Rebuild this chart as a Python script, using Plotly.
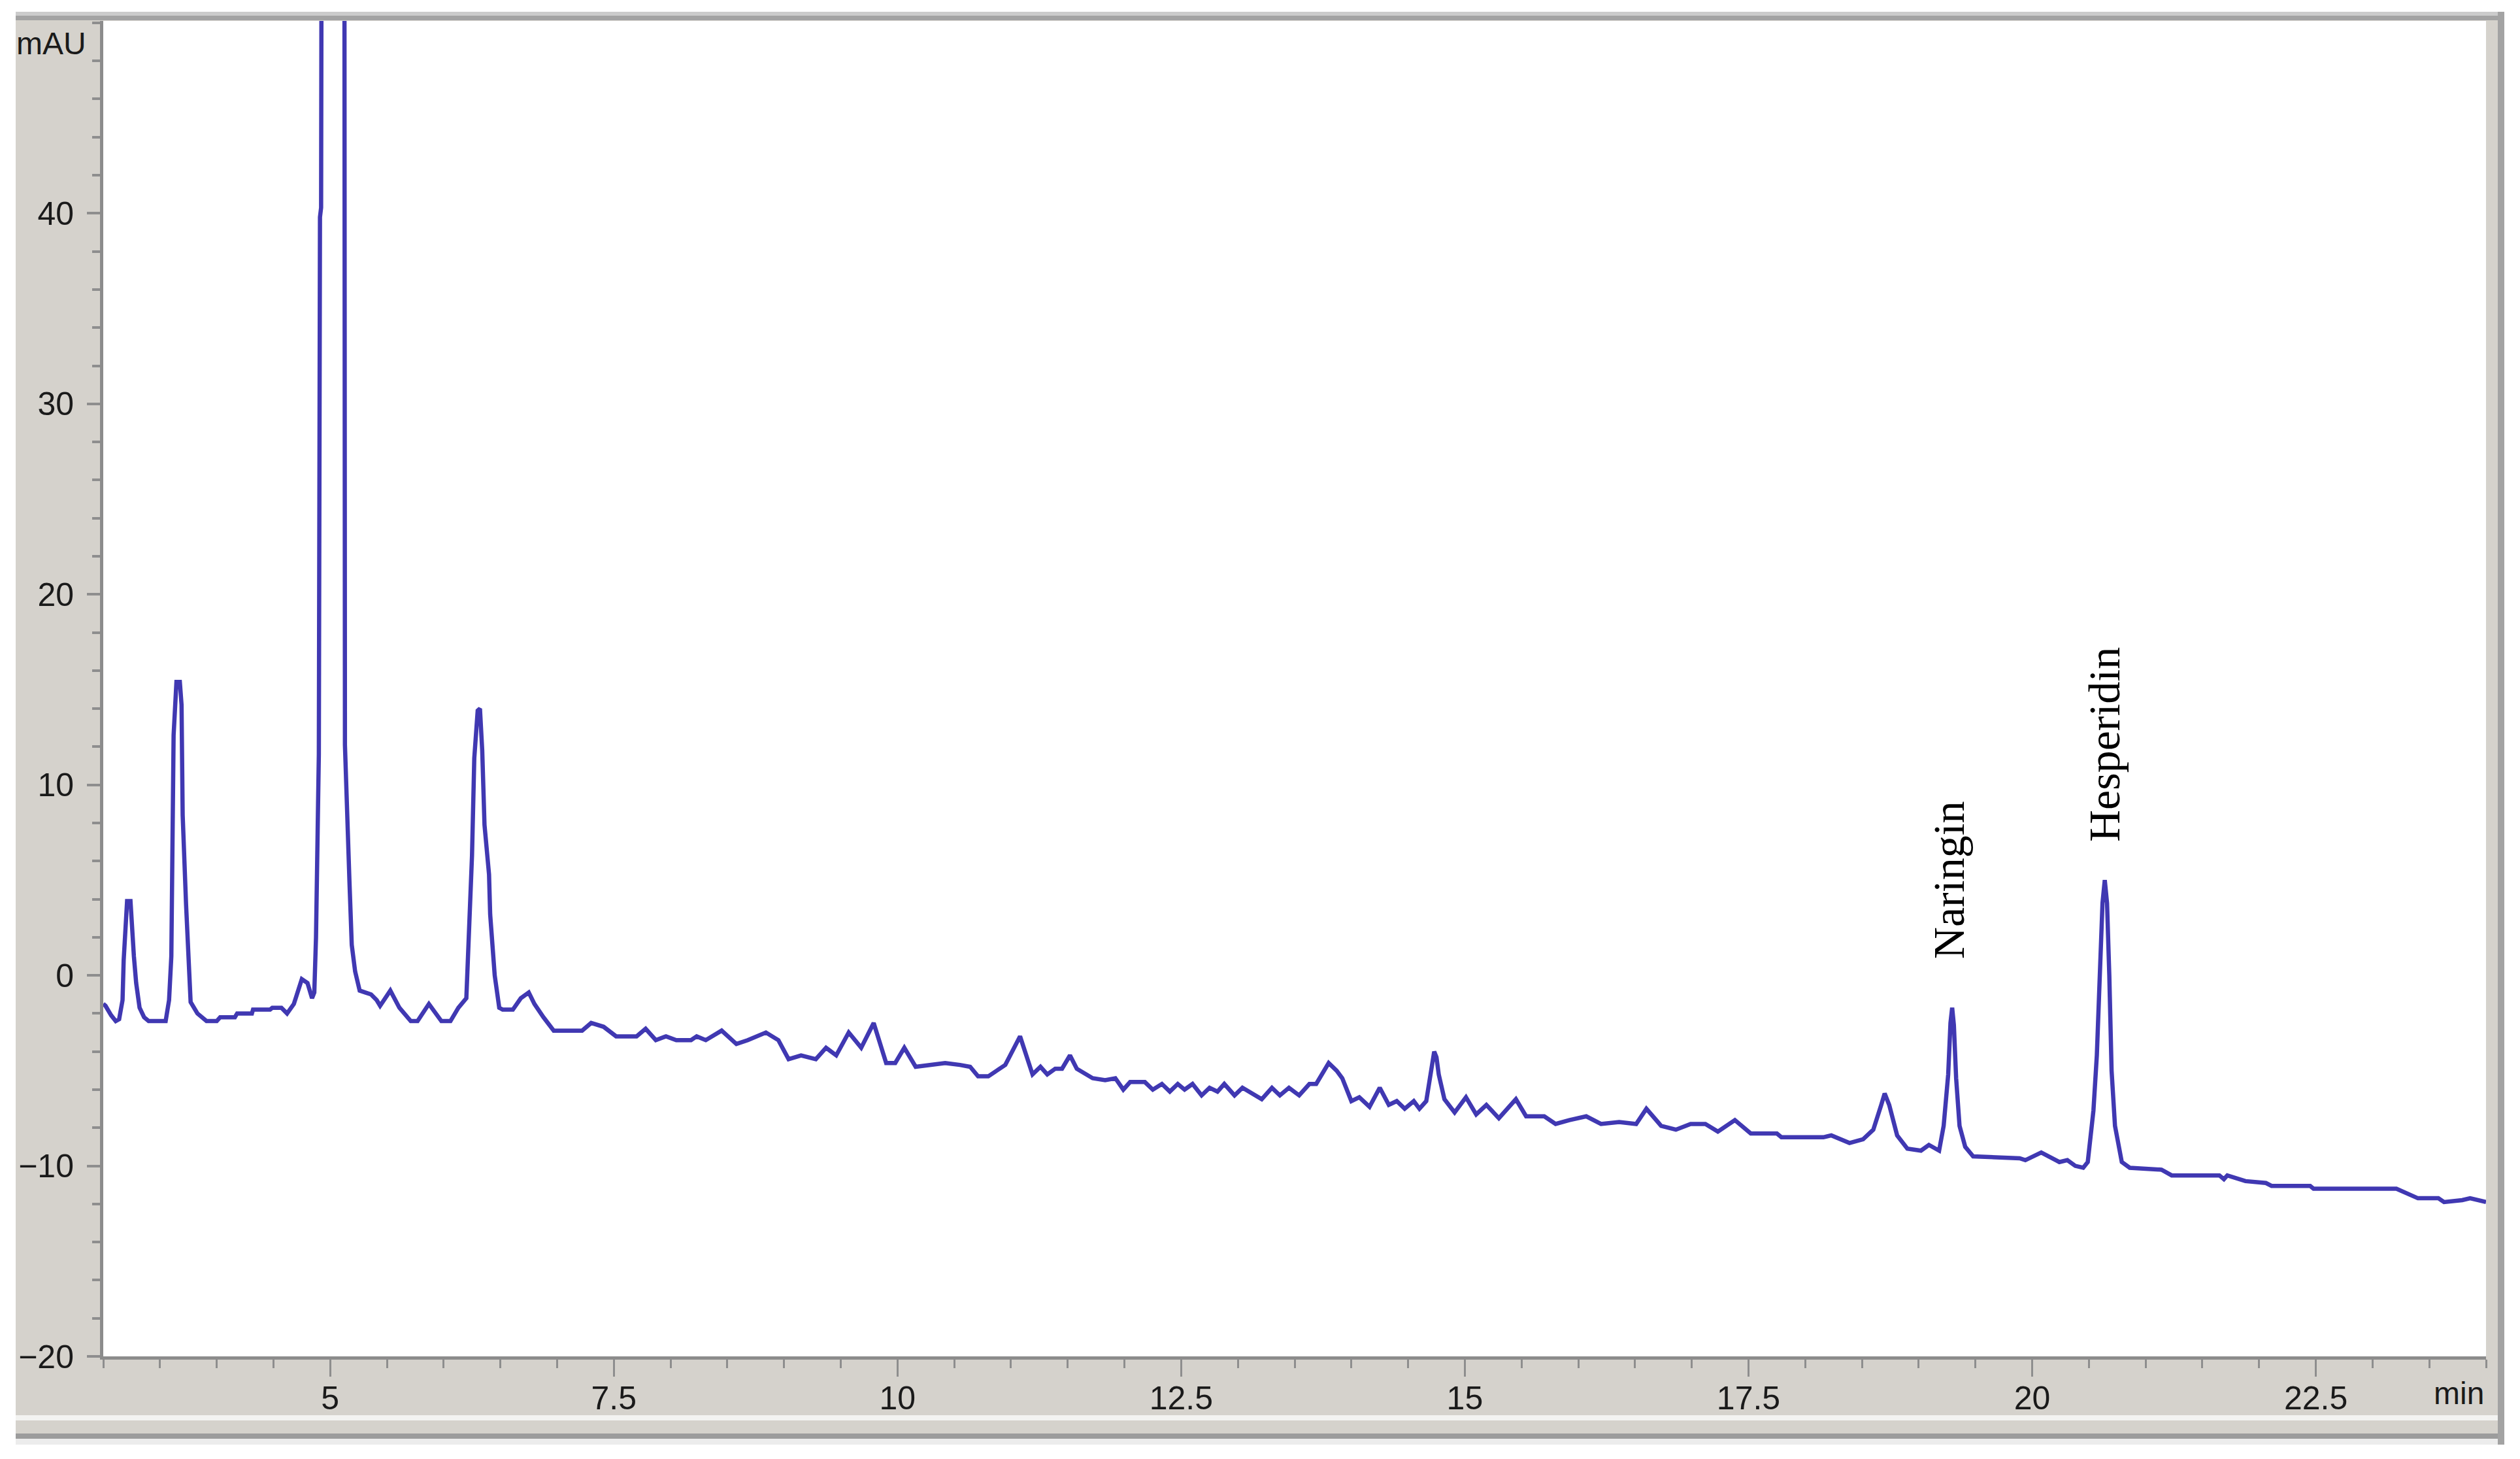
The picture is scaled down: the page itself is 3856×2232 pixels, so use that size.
import plotly.graph_objects as go

# ---------------- data ----------------
time_min = [
    3.00, 3.02, 3.07, 3.11, 3.14, 3.17, 3.18, 3.20, 3.21, 3.24, 3.25, 3.27, 3.29, 3.32, 3.36, 3.40,
    3.55, 3.58, 3.60, 3.61, 3.62, 3.645, 3.675, 3.69, 3.70, 3.73, 3.75, 3.77, 3.83, 3.91, 4.00, 4.03,
    4.16, 4.18, 4.31, 4.32, 4.47, 4.49, 4.57, 4.62, 4.68, 4.75, 4.80, 4.84, 4.86, 4.875, 4.90, 4.91,
    4.92, 4.94, 5.02, 5.11, 5.13, 5.17, 5.19, 5.22, 5.26, 5.31, 5.36, 5.41, 5.44, 5.53, 5.61, 5.71,
    5.77, 5.87, 5.98, 6.06, 6.13, 6.20, 6.21, 6.23, 6.25, 6.27, 6.30, 6.32, 6.34, 6.36, 6.40, 6.41,
    6.45, 6.49, 6.52, 6.61, 6.68, 6.75, 6.80, 6.88, 6.97, 7.22, 7.30, 7.41, 7.52, 7.70, 7.78, 7.87,
    7.96, 8.05, 8.18, 8.23, 8.31, 8.45, 8.58, 8.68, 8.84, 8.95, 9.04, 9.15, 9.28, 9.37, 9.46, 9.57,
    9.68, 9.79, 9.90, 9.98, 10.06, 10.16, 10.42, 10.55, 10.64, 10.71, 10.80, 10.95, 11.08, 11.19, 11.26, 11.32,
    11.39, 11.45, 11.52, 11.58, 11.72, 11.83, 11.92, 11.99, 12.05, 12.18, 12.25, 12.33, 12.40, 12.47, 12.53, 12.60,
    12.68, 12.75, 12.82, 12.88, 12.97, 13.04, 13.12, 13.21, 13.30, 13.37, 13.45, 13.54, 13.63, 13.69, 13.80, 13.87,
    13.92, 14.00, 14.07, 14.16, 14.25, 14.33, 14.40, 14.47, 14.55, 14.60, 14.66, 14.71, 14.73, 14.75, 14.77, 14.82,
    14.91, 15.01, 15.10, 15.19, 15.30, 15.45, 15.54, 15.70, 15.80, 15.92, 16.07, 16.20, 16.36, 16.51, 16.60, 16.73,
    16.86, 16.99, 17.12, 17.23, 17.38, 17.52, 17.75, 17.79, 18.16, 18.23, 18.39, 18.51, 18.60, 18.67, 18.70, 18.74,
    18.81, 18.90, 19.02, 19.09, 19.18, 19.22, 19.26, 19.28, 19.295, 19.31, 19.33, 19.36, 19.41, 19.48, 19.89, 19.94,
    20.08, 20.24, 20.31, 20.38, 20.45, 20.49, 20.54, 20.57, 20.60, 20.62, 20.64, 20.66, 20.68, 20.70, 20.73, 20.79,
    20.86, 21.14, 21.23, 21.65, 21.69, 21.72, 21.88, 22.06, 22.11, 22.45, 22.48, 23.21, 23.40, 23.58, 23.63, 23.79,
    23.86, 23.98, 24.00,
]
absorbance_mau = [
    -1.5, -1.6, -2.1, -2.4, -2.3, -1.3, 0.8, 3.0, 3.9, 3.9, 2.7, 1.0, -0.4, -1.7, -2.2, -2.4,
    -2.4, -1.3, 1.0, 7.4, 12.6, 15.4, 15.4, 14.2, 8.4, 3.7, 0.6, -1.4, -2.0, -2.4, -2.4, -2.2,
    -2.2, -2.0, -2.0, -1.8, -1.8, -1.7, -1.7, -2.0, -1.5, -0.2, -0.4, -1.2, -0.9, 2.0, 11.6, 39.8,
    40.3, 300.0, 420.0, 200.0, 12.1, 4.9, 1.6, 0.2, -0.8, -0.9, -1.0, -1.3, -1.6, -0.8, -1.7, -2.4,
    -2.4, -1.5, -2.4, -2.4, -1.7, -1.2, 0.2, 2.5, 6.3, 11.4, 13.9, 14.0, 11.8, 7.9, 5.3, 3.2,
    0.0, -1.7, -1.8, -1.8, -1.2, -0.9, -1.5, -2.2, -2.9, -2.9, -2.5, -2.7, -3.2, -3.2, -2.8, -3.4,
    -3.2, -3.4, -3.4, -3.2, -3.4, -2.9, -3.6, -3.4, -3.0, -3.4, -4.4, -4.2, -4.4, -3.8, -4.2, -3.0,
    -3.8, -2.5, -4.6, -4.6, -3.8, -4.8, -4.6, -4.7, -4.8, -5.3, -5.3, -4.7, -3.2, -5.2, -4.8, -5.2,
    -4.9, -4.9, -4.2, -4.9, -5.4, -5.5, -5.4, -6.0, -5.6, -5.6, -6.0, -5.7, -6.1, -5.7, -6.0, -5.7,
    -6.3, -5.9, -6.1, -5.7, -6.3, -5.9, -6.2, -6.5, -5.9, -6.3, -5.9, -6.3, -5.7, -5.7, -4.6, -5.0,
    -5.4, -6.6, -6.4, -6.9, -5.9, -6.8, -6.6, -7.0, -6.6, -7.0, -6.6, -4.6, -4.0, -4.3, -5.2, -6.5,
    -7.2, -6.4, -7.3, -6.8, -7.5, -6.5, -7.4, -7.4, -7.8, -7.6, -7.4, -7.8, -7.7, -7.8, -7.0, -7.9,
    -8.1, -7.8, -7.8, -8.2, -7.6, -8.3, -8.3, -8.5, -8.5, -8.4, -8.8, -8.6, -8.1, -6.8, -6.2, -6.8,
    -8.4, -9.1, -9.2, -8.9, -9.2, -7.9, -5.2, -2.5, -1.7, -2.6, -5.4, -7.9, -9.0, -9.5, -9.6, -9.7,
    -9.3, -9.8, -9.7, -10.0, -10.1, -9.8, -7.1, -4.2, 0.0, 3.8, 5.0, 3.8, 0.0, -5.0, -7.9, -9.8,
    -10.1, -10.2, -10.5, -10.5, -10.7, -10.5, -10.8, -10.9, -11.05, -11.05, -11.2, -11.2, -11.7, -11.7, -11.9, -11.8,
    -11.7, -11.9, -11.9,
]

y_tick_vals = [-20, -10, 0, 10, 20, 30, 40]
y_tick_text = ["\u221220", "\u221210", "0", "10", "20", "30", "40"]
x_tick_vals = [5, 7.5, 10, 12.5, 15, 17.5, 20, 22.5]
x_tick_text = ["5", "7.5", "10", "12.5", "15", "17.5", "20", "22.5"]

peak_names = ["Naringin", "Hesperidin"]
peak_label_time = [19.27, 20.64]
peak_label_mau = [5.0, 12.1]

# ---------------- styling ----------------
W, H = 3856, 2232
L, R, T, B = 158, 52, 32, 157
PW, PH = W - L - R, H - T - B
PANEL = "#d5d2cc"
TICK = "#8e8e8e"
NARROW = "Liberation Sans Narrow, Arial Narrow, Liberation Sans, Arial, sans-serif"
SERIF = "Liberation Serif, Times New Roman, serif"


def px(x):
    return (x - L) / PW


def py(y):
    return (H - B - y) / PH


def rect(x0, y0, x1, y1, color):
    return dict(type="rect", xref="paper", yref="paper",
                x0=px(x0), x1=px(x1), y0=py(y1), y1=py(y0),
                fillcolor=color, line=dict(width=0), layer="above")


fig = go.Figure()
fig.add_trace(go.Scatter(
    x=time_min, y=absorbance_mau, mode="lines",
    line=dict(color="rgb(64,56,178)", width=6.5),
    hoverinfo="skip",
))

shapes = [
    rect(0, 0, 24, H, "white"),
    rect(0, 0, W, 18, "white"),
    rect(3832, 0, W, H, "white"),
    rect(0, 2210, W, H, "white"),
    rect(24, 18, 3832, 24, "#cbcbcb"),
    rect(24, 24, 3832, 31, "#a3a3a3"),
    rect(3822, 18, 3832, 2210, "#a3a3a3"),
    rect(24, 2165, 3822, 2173, "#f3f3f1"),
    rect(24, 2193, 3822, 2201, "#9c9c9c"),
    rect(24, 2201, 3822, 2210, "#ececec"),
]

annotations = [
    dict(text="mAU", xref="paper", yref="paper", x=px(78), y=py(67),
         xanchor="center", yanchor="middle", showarrow=False,
         font=dict(family=NARROW, size=48, color="#1a1a1a")),
    dict(text="min", xref="paper", yref="paper", x=px(3803), y=py(2131),
         xanchor="right", yanchor="middle", showarrow=False,
         font=dict(family=NARROW, size=48, color="#1a1a1a")),
]
for name, t, v in zip(peak_names, peak_label_time, peak_label_mau):
    annotations.append(dict(text=name, x=t, y=v, xref="x", yref="y", textangle=-90,
                            xanchor="center", yanchor="middle", showarrow=False,
                            font=dict(family=SERIF, size=68, color="black")))

fig.update_layout(
    width=W, height=H,
    margin=dict(l=L, r=R, t=T, b=B, pad=0),
    paper_bgcolor=PANEL, plot_bgcolor="white",
    showlegend=False,
    font=dict(family=NARROW, size=50, color="#1a1a1a"),
    shapes=shapes, annotations=annotations,
)
fig.update_xaxes(
    range=[3, 24], tickmode="array", tickvals=x_tick_vals, ticktext=x_tick_text,
    ticks="outside", ticklen=26, tickwidth=3, tickcolor=TICK,
    showline=True, linecolor="#8c8c8c", linewidth=5,
    showgrid=False, zeroline=False, ticklabelstandoff=-10,
    minor=dict(tickmode="linear", tick0=3, dtick=0.5, ticks="outside",
               ticklen=13, tickwidth=3, tickcolor=TICK, showgrid=False),
)
fig.update_yaxes(
    range=[-20, 50.1], tickmode="array", tickvals=y_tick_vals, ticktext=y_tick_text,
    ticks="outside", ticklen=20, tickwidth=4, tickcolor=TICK,
    showline=True, linecolor="#8c8c8c", linewidth=5,
    showgrid=False, zeroline=False, ticklabelstandoff=10,
    minor=dict(tickmode="linear", tick0=0, dtick=2, ticks="outside",
               ticklen=12, tickwidth=4, tickcolor=TICK, showgrid=False),
)

fig.write_html(
    "out.html",
    config={"displayModeBar": False},
    post_script="document.body.style.margin='0';document.body.style.overflow='hidden';",
)
